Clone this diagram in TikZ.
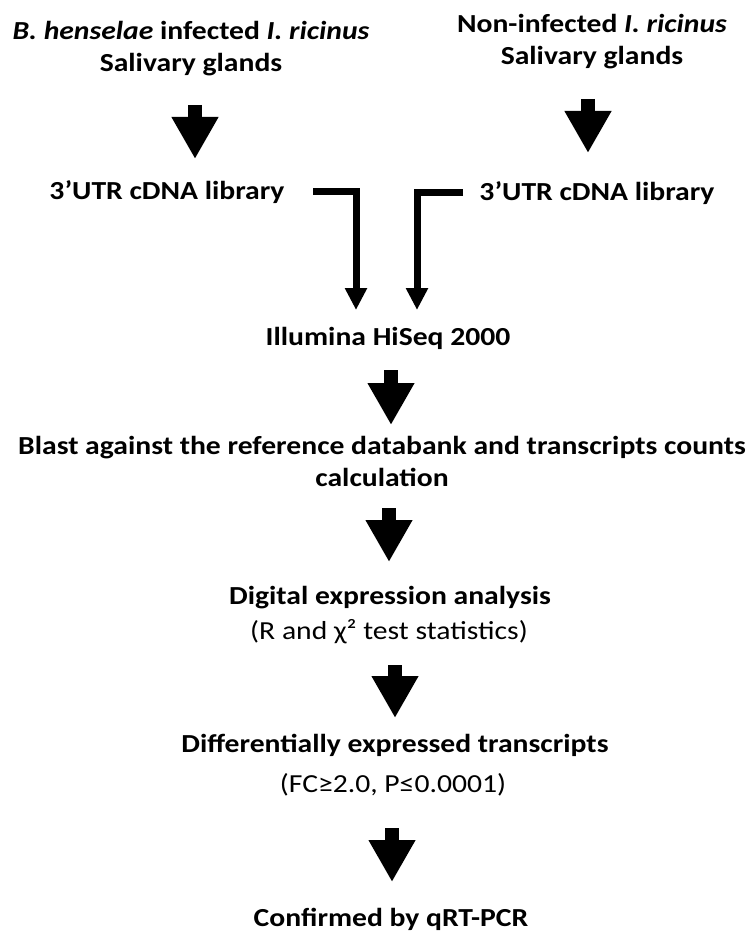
\documentclass[tikz,border=0pt]{standalone}
\usepackage{fontspec}
\setmainfont{Carlito}[FakeStretch=1.14]
\usetikzlibrary{arrows.meta}

\tikzset{
	txt/.style={align=center, inner sep=0pt, font=\fontsize{26}{32}\selectfont\bfseries},
	note/.style={align=center, inner sep=0pt, font=\fontsize{26}{32}\selectfont},
	bigarrow/.style={line width=14pt, -{Triangle[width=44pt,length=42pt]}},
	joinarrow/.style={line width=7pt, line join=miter, -{Triangle[width=21pt,length=22pt]}},
}

\begin{document}
\begin{tikzpicture}[x=1pt, y=-1pt]
	\useasboundingbox (0,0) rectangle (753,933);
	%% samples
	\node[txt] (lt) at (191,49) {\textit{B. henselae} infected \textit{I. ricinus}\\Salivary glands};
	\node[txt] (rt) at (592,42) {Non-infected \textit{I. ricinus}\\Salivary glands};
	\node[txt] (lu) at (167,192) {3’UTR cDNA library};
	\node[txt] (ru) at (597,193) {3’UTR cDNA library};
	%% pipeline
	\node[txt] (hs) at (388,338) {Illumina HiSeq 2000};
	\node[txt] (bl) at (382,461) {Blast against the reference databank and transcripts counts\\calculation};
	\node[txt] (da) at (390,598) {Digital expression analysis};
	\node[note] (rx) at (389,632) {(R and χ² test statistics)};
	\node[txt] (de) at (395,745) {Differentially expressed transcripts};
	\node[note] (fc) at (393,785) {(FC≥2.0, P≤0.0001)};
	\node[txt] (cq) at (391,919) {Confirmed by qRT-PCR};

	\draw[bigarrow] (lt.center) ++(4,56) -- ++(0,54);
	\draw[bigarrow] (rt.center) ++(-4,57) -- ++(0,54);
	% both libraries to sequencing
	\draw[joinarrow] ([xshift=146pt]lu.center) -| ([shift={(-32,-28)}]hs.center);
	\draw[joinarrow] ([xshift=-134pt]ru.center) -| ([shift={(29,-28)}]hs.center);
	\draw[bigarrow] (hs.center) ++(3,32) -- ++(0,55);
	\draw[bigarrow] (bl.center) ++(7,47) -- ++(0,54);
	\draw[bigarrow] (rx.center) ++(6,33) -- ++(0,53);
	\draw[bigarrow] (fc.center) ++(-1,43) -- ++(0,54);
\end{tikzpicture}
\end{document}
